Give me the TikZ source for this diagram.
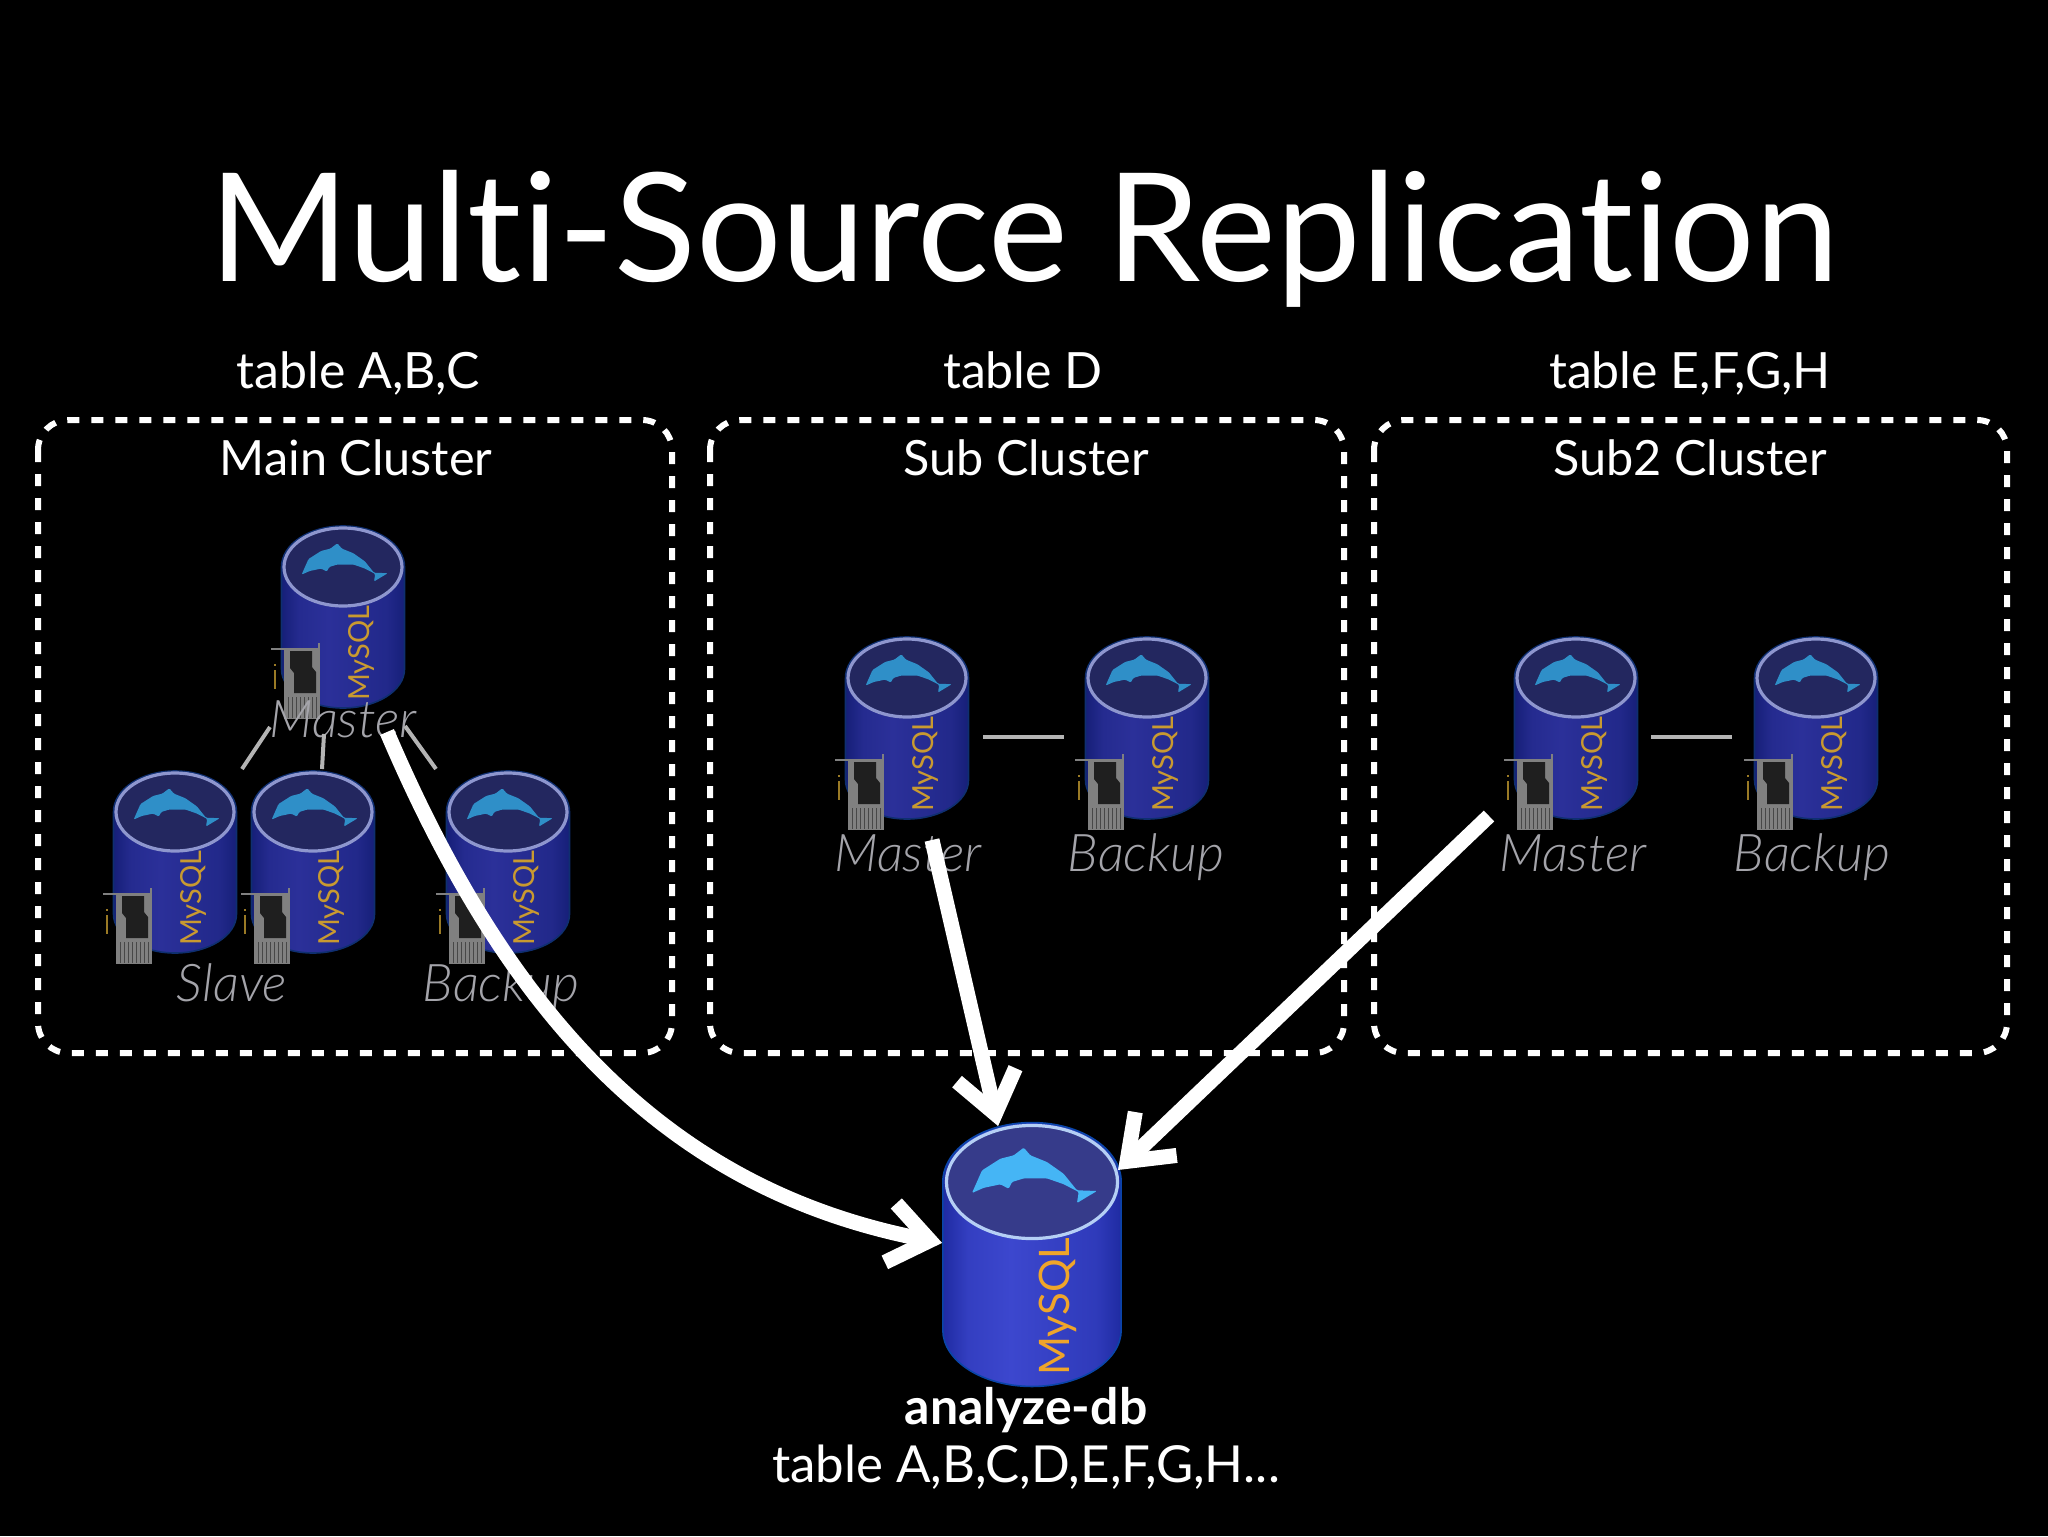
\documentclass[tikz,border=0pt]{standalone}
\usepackage{fontspec}
\setmainfont{Lato}[Ligatures=NoCommon]
\newfontfamily\lightfont{Lato Light}[Ligatures=NoCommon]
\usetikzlibrary{arrows.meta}

\definecolor{slidegray}{HTML}{A4A4AA}
\definecolor{linegray}{HTML}{B4B4B4}
\definecolor{cardgold}{HTML}{9A7A25}
\pgfdeclarehorizontalshading[dbEdge,dbMid]{dbbody}{100bp}{
  color(0bp)=(dbEdge); color(25bp)=(dbEdge); color(32bp)=(dbMid!70!dbEdge);
  color(44bp)=(dbMid); color(68bp)=(dbMid!55!dbEdge); color(75bp)=(dbEdge); color(100bp)=(dbEdge)}
\tikzset{
  titletext/.style={text=white,inner sep=0pt,anchor=base,font=\fontsize{75.5}{80}\selectfont},
  headtext/.style={text=white,inner sep=0pt,anchor=base,font=\fontsize{25}{28}\selectfont},
  clustertext/.style={headtext,font=\fontsize{24.3}{28}\selectfont},
  roletext/.style={text=slidegray,inner sep=0pt,anchor=base,font=\lightfont\itshape\fontsize{26}{30}\selectfont},
  clusterbox/.style={draw=white,line width=3pt,dash pattern=on 6pt off 6pt,rounded corners=15pt},
  replicaline/.style={draw=linegray,line width=2pt},
  feedarrow/.style={draw=white,line width=7.5pt,-{Straight Barb[length=20pt,width=30pt,line width=7.5pt]}},
  dbdim/.code={
    \definecolor{dbEdge}{HTML}{161F78}\definecolor{dbMid}{HTML}{2B3099}\definecolor{dbRim}{HTML}{0F2F70}
    \definecolor{dbTop}{HTML}{23275F}\definecolor{dbRing}{HTML}{8E96CE}
    \definecolor{dbFish}{HTML}{2F8FC8}\definecolor{dbWord}{HTML}{C99A30}
  },
  dbbright/.code={
    \definecolor{dbEdge}{HTML}{1F2BA2}\definecolor{dbMid}{HTML}{3C47CE}\definecolor{dbRim}{HTML}{0A45A8}
    \definecolor{dbTop}{HTML}{363B8A}\definecolor{dbRing}{HTML}{B5CFF5}
    \definecolor{dbFish}{HTML}{45B5F5}\definecolor{dbWord}{HTML}{EFA52A}
  },
  pics/mysqldb/.style={code={
    \coordinate (-west) at (-62,-42);
    \coordinate (-north) at (-23.4,38.6);
    \coordinate (-east) at (59.3,8.3);
    \draw [shading=dbbody,draw=dbRim,line width=0.8pt]
      (-61.5,0) -- (-61.5,-102) arc [start angle=180,end angle=360,x radius=61.5,y radius=39] -- (61.5,0)
      arc [start angle=0,end angle=180,x radius=61.5,y radius=41] -- cycle;
    \draw [fill=dbTop,draw=dbRing,line width=1.6pt] (0,0) ellipse [x radius=59,y radius=39];
    \fill [dbFish,rounded corners=0.6pt] (-41.4,-7.6) -- (-34.5,8) -- (-21.8,16.1) -- (-12.6,18.4) -- (-5.7,23.7)
      -- (-1.1,18.4) -- (10.3,13.8) -- (21.8,5.7) -- (31,-5.7) -- (44.8,-6.2) -- (37.9,-10.3) -- (31,-14.5)
      -- (32.2,-6.9) -- (21.8,-1.5) -- (10.3,2.5) -- (-5.7,2.5) -- (-13.8,0) -- (-16.1,-4.6) -- (-21.8,-1.6) -- (-33.3,-4) -- cycle;
    \node (-word) [text=dbWord,rotate=90,inner sep=0pt,transform shape,font=\fontsize{14.5}{16}\selectfont] at (18,-86) {MySQL};
  }},
  pics/hostcard/.style={code={
    \draw [gray,line width=0.7pt] (-72,-82) -- (-24,-82) -- (-24,-76);
    \fill [black!50] (-59,-83) rectangle (-23,-152);
    \fill [black!88] (-53,-84) -- (-31,-84) -- (-31,-100) -- (-27,-105) -- (-27,-126) -- (-49,-126) -- (-49,-106) -- (-53,-101) -- cycle;
    \foreach \i in {-55,-51,...,-27} \draw [black!72,line width=0.5pt] (\i,-130) -- (\i,-151);
    \draw [cardgold,line width=0.9pt] (-68,-103) -- (-68,-122) (-68,-97) -- (-68,-99);
  }},
  pics/dbhost/.style={code={
    \pic (-db) {mysqldb};
    \pic (-card) {hostcard};
  }}
}

\begin{document}
\begin{tikzpicture}[x=0.5pt,y=0.5pt]
  \fill [black] (0,0) rectangle (2048,-1536);
  \useasboundingbox (0,0) rectangle (2048,-1536);

  \node (titleText) [titletext] at (1024,-281) {Multi-Source Replication};
  \node (tableMain) [headtext] at (358,-388) {table A,B,C};
  \node (tableSub) [headtext] at (1023,-388) {table D};
  \node (tableSubTwo) [headtext] at (1690,-388) {table E,F,G,H};

  \draw [clusterbox] (38,-420) rectangle (672,-1053);
  \draw [clusterbox] (710,-420) rectangle (1344,-1053);
  \draw [clusterbox] (1374,-420) rectangle (2007,-1053);
  \node (nameMain) [clustertext] at (356,-475) {Main Cluster};
  \node (nameSub) [clustertext] at (1026,-475) {Sub Cluster};
  \node (nameSubTwo) [clustertext] at (1690,-475) {Sub2 Cluster};

  \pic [dbdim] (mainMaster) at (343,-567) {dbhost};
  \pic [dbdim] (mainSlaveA) at (175,-812) {dbhost};
  \pic [dbdim] (mainSlaveB) at (313,-812) {dbhost};
  \pic [dbdim] (mainBackup) at (508,-812) {dbhost};
  \pic [dbdim] (subMaster) at (907,-678) {dbhost};
  \pic [dbdim] (subBackup) at (1147,-678) {dbhost};
  \pic [dbdim] (subTwoMaster) at (1576,-678) {dbhost};
  \pic [dbdim] (subTwoBackup) at (1816,-678) {dbhost};
  \pic [dbbright,scale=1.45] (analyzeDb) at (1032,-1182) {mysqldb};

  \node (roleMainMaster) [roletext] at (343,-737) {Master};
  \node (roleMainSlave) [roletext] at (232,-1001) {Slave};
  \node (roleMainBackup) [roletext] at (501,-1001) {Backup};
  \node (roleSubMaster) [roletext] at (908,-871) {Master};
  \node (roleSubBackup) [roletext] at (1146,-871) {Backup};
  \node (roleSubTwoMaster) [roletext] at (1573,-871) {Master};
  \node (roleSubTwoBackup) [roletext] at (1812,-871) {Backup};

  \coordinate (lineMainA) at (270,-727);
  \coordinate (lineSlaveA) at (242,-769);
  \coordinate (lineMainB) at (324,-734);
  \coordinate (lineSlaveB) at (322,-769);
  \coordinate (lineMainC) at (405,-726);
  \coordinate (lineBackup) at (436,-769);
  \draw [replicaline] (lineMainA) -- (lineSlaveA);
  \draw [replicaline] (lineMainB) -- (lineSlaveB);
  \draw [replicaline] (lineMainC) -- (lineBackup);
  \coordinate (lineSubA) at (983,-737);
  \coordinate (lineSubB) at (1064,-737);
  \coordinate (lineSubTwoA) at (1651,-737);
  \coordinate (lineSubTwoB) at (1732,-737);
  \draw [replicaline] (lineSubA) -- (lineSubB);
  \draw [replicaline] (lineSubTwoA) -- (lineSubTwoB);

  \node (nameAnalyze) [headtext,font=\bfseries\fontsize{25}{28}\selectfont] at (1026,-1424) {analyze-db};
  \node (tableAnalyze) [headtext,font=\fontsize{25.5}{28}\selectfont] at (1026,-1482) {table A,B,C,D,E,F,G,H...};

  \coordinate (outMain) at (387,-732);
  \coordinate (outSub) at (932,-840);
  \coordinate (outSubTwo) at (1489,-816);
  \draw [feedarrow] (outMain) .. controls (510,-1020) and (670,-1190) .. (analyzeDb-west);
  \draw [feedarrow] (outSub) -- (analyzeDb-north);
  \draw [feedarrow] (outSubTwo) -- (analyzeDb-east);
\end{tikzpicture}
\end{document}
